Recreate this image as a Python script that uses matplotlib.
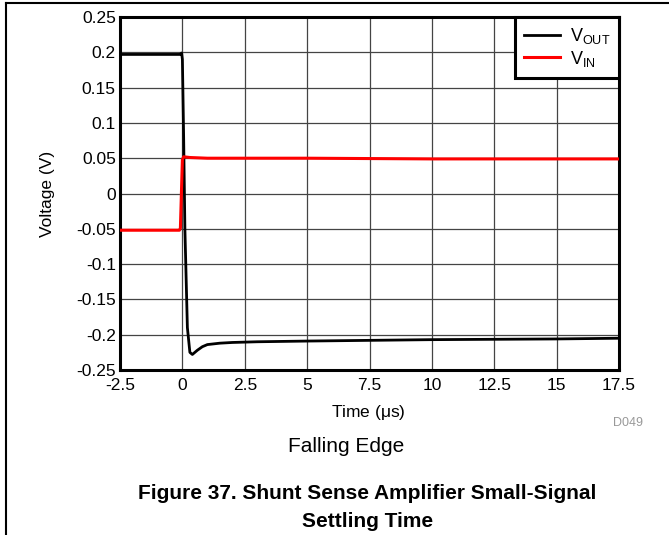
import numpy as np
import matplotlib.pyplot as plt
from matplotlib.lines import Line2D

plt.rcParams['font.family'] = ['Liberation Sans', 'DejaVu Sans']
plt.rcParams['mathtext.fontset'] = 'custom'
plt.rcParams['mathtext.rm'] = 'Liberation Sans'

t_out = [-2.5, -0.1, -0.03, 0.0, 0.05, 0.1, 0.2, 0.3, 0.4, 0.6, 0.8, 1.0, 1.5, 2.0, 3.0, 5.0, 10.0, 15.0, 17.5]
v_out = [0.197, 0.197, 0.199, 0.19, 0.08, -0.05, -0.19, -0.225, -0.228, -0.222, -0.217, -0.214, -0.212, -0.211, -0.210, -0.209, -0.207, -0.206, -0.205]

t_in = [-2.5, -0.12, -0.08, -0.04, 0.0, 0.05, 0.3, 1.0, 5.0, 10.0, 17.5]
v_in = [-0.052, -0.052, -0.049, 0.0, 0.048, 0.052, 0.051, 0.050, 0.050, 0.049, 0.049]

xticks = [-2.5, 0, 2.5, 5, 7.5, 10, 12.5, 15, 17.5]
xlabels = ['-2.5', '0', '2.5', '5', '7.5', '10', '12.5', '15', '17.5']
yticks = [0.25, 0.2, 0.15, 0.1, 0.05, 0, -0.05, -0.1, -0.15, -0.2, -0.25]
ylabels = ['0.25', '0.2', '0.15', '0.1', '0.05', '0', '-0.05', '-0.1', '-0.15', '-0.2', '-0.25']

fig = plt.figure(figsize=(6.69, 5.35), dpi=100)
ax = fig.add_axes([0.1794, 0.3084, 0.7459, 0.6598])

ax.plot(t_out, v_out, color='black', lw=2, label=r'V$_{\mathrm{OUT}}$', zorder=3)
ax.plot(t_in, v_in, color='#ff0000', lw=2.2, label=r'V$_{\mathrm{IN}}$', zorder=3)

ax.set_xlim(-2.5, 17.5)
ax.set_ylim(-0.25, 0.25)
ax.set_xticks(xticks)
ax.set_xticklabels(xlabels, fontsize=12.5)
ax.set_yticks(yticks)
ax.set_yticklabels(ylabels, fontsize=12.5)
ax.tick_params(axis='y', length=0, pad=3)
ax.tick_params(axis='x', length=0, pad=6)
ax.grid(True, color='#444444', lw=0.9)
for s in ax.spines.values():
    s.set_linewidth(2.2)
ax.set_xlabel(r'Time ($\mathrm{\mu}$s)', fontsize=12.5)
ax.set_ylabel('Voltage (V)', fontsize=12.5)
ax.xaxis.set_label_coords(0.497, -0.093)
ax.yaxis.set_label_coords(-0.130, 0.5)

leg = ax.legend(loc='upper right', fontsize=13, fancybox=False, framealpha=1,
                edgecolor='black', borderaxespad=0, handlelength=2.0,
                handletextpad=0.5, labelspacing=0.15, borderpad=0.5)
leg.get_frame().set_linewidth(2.2)

fig.text(0.939, 0.209, 'D049', fontsize=9, color='#999999', ha='center', va='center')
fig.text(0.517, 0.166, 'Falling Edge', fontsize=15, ha='center', va='center')
fig.text(0.549, 0.077, 'Figure 37. Shunt Sense Amplifier Small-Signal', fontsize=15,
         fontweight='bold', ha='center', va='center')
fig.text(0.549, 0.026, 'Settling Time', fontsize=15, fontweight='bold', ha='center', va='center')

fig.add_artist(Line2D([0.009, 0.009], [0.0, 0.995], transform=fig.transFigure, color='black', lw=1.5))
fig.add_artist(Line2D([0.009, 1.0], [0.995, 0.995], transform=fig.transFigure, color='black', lw=1.5))

fig.savefig('out.png', dpi=100)
